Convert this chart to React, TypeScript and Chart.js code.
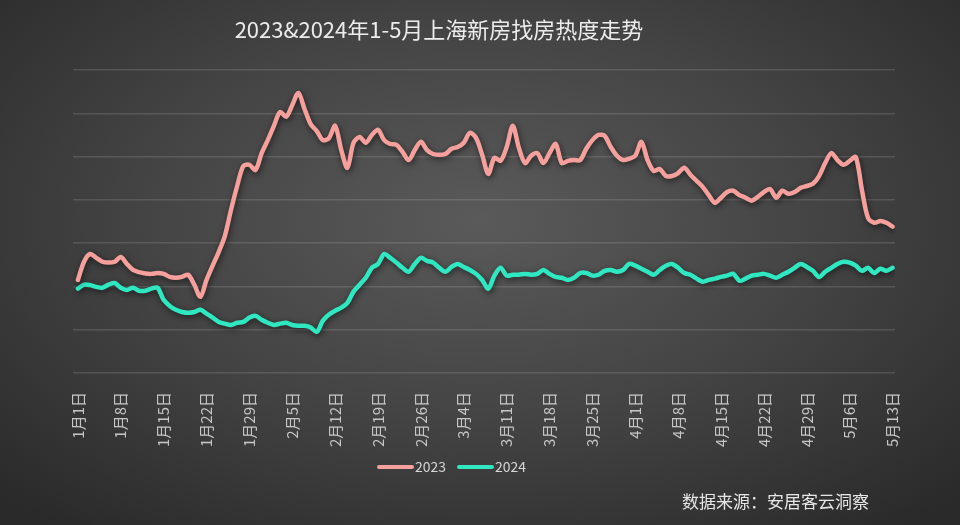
import { useEffect, useRef } from 'react';
import { Chart, registerables } from 'chart.js';

Chart.register(...registerables);

const titleText = '2023&2024年1-5月上海新房找房热度走势';
const sourceText = '数据来源：安居客云洞察';
const seriesNames = ['2023', '2024'];
const seriesColors = ['#f5a09d', '#2fe8c2'];

const weekLabels = [
  '1月1日', '1月8日', '1月15日', '1月22日', '1月29日', '2月5日', '2月12日', '2月19日', '2月26日', '3月4日',
  '3月11日', '3月18日', '3月25日', '4月1日', '4月8日', '4月15日', '4月22日', '4月29日', '5月6日', '5月13日',
];

const series2023 = [
  21.5, 25.7, 27.5, 26.6, 25.7, 25.5, 25.7, 26.8, 25.2, 23.8,
  23.3, 23.0, 22.9, 23.1, 22.9, 22.2, 22.0, 22.2, 22.7, 20.4,
  17.6, 21.5, 24.8, 28.0, 31.7, 37.7, 43.2, 47.8, 48.1, 46.9,
  50.8, 53.8, 57.1, 60.3, 59.2, 61.9, 64.7, 61.0, 57.5, 55.9,
  53.8, 54.3, 57.1, 51.5, 47.4, 53.2, 54.5, 53.2, 55.0, 56.2,
  53.8, 52.9, 52.7, 51.1, 49.2, 51.5, 53.4, 51.5, 50.6, 50.4,
  50.6, 51.8, 52.2, 53.2, 55.5, 54.3, 50.4, 46.0, 49.7, 49.0,
  52.2, 57.1, 52.0, 48.5, 50.2, 50.8, 48.5, 50.8, 52.9, 48.5,
  49.0, 49.2, 49.2, 51.8, 53.8, 55.0, 54.8, 52.2, 50.2, 49.2,
  49.5, 50.2, 53.4, 49.2, 46.7, 47.1, 45.5, 45.5, 46.2, 47.4,
  45.8, 44.4, 43.0, 41.1, 39.3, 40.5, 41.8, 42.1, 41.1, 40.5,
  39.8, 40.7, 41.8, 42.5, 40.5, 42.1, 41.4, 41.8, 42.8, 43.2,
  43.7, 45.5, 48.5, 50.8, 49.2, 48.1, 49.0, 49.9, 42.3, 35.8,
  34.7, 35.1, 34.7, 33.8,
];

const series2024 = [
  19.5, 20.4, 20.3, 19.9, 19.7, 20.4, 20.8, 19.7, 19.2, 19.7,
  19.0, 19.0, 19.5, 19.7, 16.9, 15.5, 14.6, 14.1, 13.9, 14.1,
  14.6, 13.7, 12.8, 11.8, 11.4, 11.1, 11.6, 11.8, 12.8, 13.2,
  12.3, 11.6, 11.1, 11.4, 11.6, 11.1, 10.9, 10.9, 10.5, 9.5,
  12.1, 13.5, 14.4, 15.1, 16.2, 18.8, 20.4, 22.0, 24.3, 25.2,
  27.5, 26.6, 25.5, 24.3, 23.4, 25.2, 26.6, 25.9, 25.5, 24.3,
  23.4, 24.5, 25.2, 24.5, 23.8, 22.9, 21.5, 19.5, 22.5, 24.3,
  22.5, 22.7, 22.7, 22.9, 22.7, 22.9, 23.8, 22.9, 22.2, 22.0,
  21.5, 22.0, 23.1, 23.1, 22.5, 22.7, 23.6, 23.8, 23.4, 23.8,
  25.2, 24.8, 24.1, 23.4, 22.7, 23.8, 24.8, 25.2, 24.3, 23.1,
  22.7, 21.8, 21.1, 21.5, 21.8, 22.2, 22.5, 22.9, 21.3, 21.8,
  22.5, 22.7, 22.9, 22.5, 22.0, 22.7, 23.4, 24.3, 25.2, 24.5,
  23.6, 22.2, 23.4, 24.3, 25.2, 25.7, 25.5, 24.8, 23.6, 24.3,
  23.1, 24.1, 23.6, 24.3,
];

const FONT = '"Noto Sans CJK SC", "Noto Sans", sans-serif';

const shadowPlugin = {
  id: 'lineShadow',
  beforeDatasetsDraw(chart: any) {
    const ctx = chart.ctx;
    ctx.save();
    ctx.shadowColor = 'rgba(0,0,0,0.6)';
    ctx.shadowBlur = 6;
    ctx.shadowOffsetX = 1;
    ctx.shadowOffsetY = 2;
  },
  afterDatasetsDraw(chart: any) {
    chart.ctx.restore();
  },
};

const textPlugin = {
  id: 'texts',
  afterDraw(chart: any) {
    const ctx = chart.ctx;
    ctx.save();
    // title
    ctx.fillStyle = '#ececec';
    ctx.font = `22px ${FONT}`;
    ctx.textAlign = 'center';
    ctx.textBaseline = 'middle';
    ctx.fillText(titleText, 439, 30);

    // legend
    const items = [
      { x: 379, name: seriesNames[0], color: seriesColors[0] },
      { x: 459, name: seriesNames[1], color: seriesColors[1] },
    ];
    ctx.font = `14px ${FONT}`;
    ctx.textAlign = 'left';
    items.forEach((it) => {
      ctx.strokeStyle = it.color;
      ctx.lineWidth = 4;
      ctx.lineCap = 'round';
      ctx.beginPath();
      ctx.moveTo(it.x, 467);
      ctx.lineTo(it.x + 33, 467);
      ctx.stroke();
      ctx.fillStyle = '#d6d6d6';
      ctx.fillText(it.name, it.x + 36, 467);
    });

    // source
    ctx.fillStyle = '#e6e6e6';
    ctx.font = `17px ${FONT}`;
    ctx.textAlign = 'right';
    ctx.fillText(sourceText, 869, 502);
    ctx.restore();
  },
};

export default function App() {
  const canvasRef = useRef<HTMLCanvasElement | null>(null);

  useEffect(() => {
    if (!canvasRef.current) return;
    const toPoints = (arr: number[]) => arr.map((v, i) => ({ x: i, y: v }));
    const chart = new Chart(canvasRef.current, {
      type: 'line',
      data: {
        datasets: [
          {
            label: seriesNames[0],
            data: toPoints(series2023),
            borderColor: seriesColors[0],
            borderWidth: 4.5,
            pointRadius: 0,
            tension: 0.3,
            borderCapStyle: 'round',
            borderJoinStyle: 'round',
          },
          {
            label: seriesNames[1],
            data: toPoints(series2024),
            borderColor: seriesColors[1],
            borderWidth: 4.5,
            pointRadius: 0,
            tension: 0.3,
            borderCapStyle: 'round',
            borderJoinStyle: 'round',
          },
        ],
      },
      options: {
        animation: false,
        responsive: false,
        maintainAspectRatio: false,
        layout: { padding: { left: 73, right: 65, top: 70, bottom: 0 } },
        plugins: {
          legend: { display: false },
          title: { display: false },
          tooltip: { enabled: false },
        },
        scales: {
          x: {
            type: 'linear',
            min: -0.8,
            max: 133.4,
            grid: { display: false },
            border: { display: false },
            afterBuildTicks: (s: any) => {
              s.ticks = weekLabels.map((_, i) => ({ value: i * 7 }));
            },
            afterFit: (s: any) => {
              s.height = 152;
            },
            ticks: {
              autoSkip: false,
              minRotation: 90,
              maxRotation: 90,
              padding: 11,
              color: '#c6c6c6',
              font: { family: FONT, size: 15 },
              callback: (v: any) => weekLabels[Math.round(Number(v) / 7)] ?? '',
            },
          },
          y: {
            min: 0,
            max: 70,
            ticks: { display: false, stepSize: 10 },
            border: { display: false },
            grid: { color: 'rgba(255,255,255,0.13)', lineWidth: 1.5, drawTicks: false },
            afterFit: (s: any) => {
              s.width = 0;
            },
          },
        },
      },
      plugins: [shadowPlugin, textPlugin],
    } as any);
    return () => chart.destroy();
  }, []);

  return (
    <div
      style={{
        position: 'fixed',
        left: 0,
        top: 0,
        width: 960,
        height: 525,
        background: 'radial-gradient(ellipse 70% 75% at 50% 42%, #5a5a5a 0%, #444444 50%, #2a2a2a 100%)',
      }}
    >
      <canvas ref={canvasRef} width={960} height={525} style={{ display: 'block' }} />
    </div>
  );
}
